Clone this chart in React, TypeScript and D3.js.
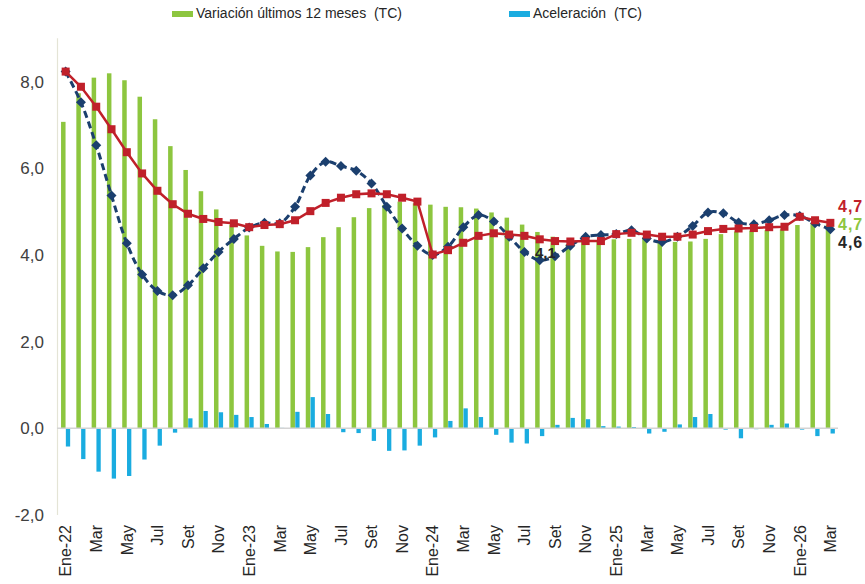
import React from "react";
import * as d3 from "d3";

const categories: string[] = [
  "Ene-22","Feb","Mar","Abr","May","Jun","Jul","Ago","Set","Oct","Nov","Dic",
  "Ene-23","Feb","Mar","Abr","May","Jun","Jul","Ago","Set","Oct","Nov","Dic",
  "Ene-24","Feb","Mar","Abr","May","Jun","Jul","Ago","Set","Oct","Nov","Dic",
  "Ene-25","Feb","Mar","Abr","May","Jun","Jul","Ago","Set","Oct","Nov","Dic",
  "Ene-26","Feb","Mar",
];

const variacion12m: number[] = [
  7.07, 7.73, 8.09, 8.19, 8.03, 7.65, 7.13, 6.51, 5.96, 5.47, 5.05, 4.70, 4.45,
  4.21, 4.08, 4.07, 4.18, 4.41, 4.64, 4.87, 5.08, 5.15, 5.23, 5.19, 5.16, 5.11,
  5.10, 5.07, 4.98, 4.86, 4.70, 4.53, 4.42, 4.25, 4.30, 4.33, 4.36, 4.37, 4.40,
  4.32, 4.30, 4.31, 4.37, 4.48, 4.54, 4.56, 4.57, 4.59, 4.69, 4.73, 4.70,
];

const aceleracion: number[] = [
  -0.42, -0.71, -1.0, -1.16, -1.1, -0.72, -0.4, -0.1, 0.23, 0.4, 0.37, 0.31, 0.26,
  0.1, 0.01, 0.38, 0.72, 0.33, -0.09, -0.11, -0.29, -0.52, -0.51, -0.4, -0.21, 0.17,
  0.46, 0.26, -0.15, -0.33, -0.35, -0.18, 0.08, 0.24, 0.21, 0.05, 0.04, 0.03, -0.12,
  -0.08, 0.09, 0.26, 0.33, -0.03, -0.23, -0.02, 0.08, 0.11, -0.03, -0.18, -0.12,
];

const redSeries: number[] = [
  8.23, 7.88, 7.42, 6.9, 6.37, 5.88, 5.48, 5.17, 4.95, 4.83, 4.76, 4.73, 4.64,
  4.69, 4.71, 4.8, 5.01, 5.2, 5.32, 5.4, 5.42, 5.4, 5.32, 5.23, 4.01, 4.11,
  4.28, 4.44, 4.5, 4.47, 4.44, 4.36, 4.32, 4.31, 4.32, 4.32, 4.48, 4.51, 4.47,
  4.42, 4.42, 4.47, 4.55, 4.6, 4.61, 4.62, 4.64, 4.65, 4.88, 4.8, 4.74,
];

const blueSeries: number[] = [
  8.23, 7.52, 6.53, 5.37, 4.27, 3.55, 3.17, 3.07, 3.3, 3.69, 4.07, 4.37, 4.63,
  4.74, 4.73, 5.11, 5.83, 6.15, 6.05, 5.94, 5.65, 5.11, 4.61, 4.21, 4.0, 4.19,
  4.64, 4.92, 4.77, 4.42, 4.07, 3.88, 3.97, 4.21, 4.42, 4.46, 4.48, 4.57, 4.38,
  4.3, 4.42, 4.67, 4.98, 4.96, 4.75, 4.71, 4.8, 4.92, 4.9, 4.73, 4.59,
];

const yTicks: number[] = [-2, 0, 2, 4, 6, 8];
const legendLabels: string[] = ["Variación últimos 12 meses  (TC)", "Aceleración  (TC)"];
const endLabels: string[] = ["4,7", "4,7", "4,6"];
const midLabel = "4,1";

const GREEN = "#8DC63F";
const CYAN = "#1AACE0";
const RED = "#C0202A";
const NAVY = "#1B3F6E";
const TEXT = "#262626";

export default function App() {
  const W = 865, H = 584;
  const x = d3.scaleBand<number>().domain(categories.map((_, i) => i)).range([58, 838]).padding(0);
  const y = d3.scaleLinear().domain([-2, 9]).range([515, 38.2]);
  const bw = x.bandwidth();
  const cx = (i: number) => (x(i) as number) + bw / 2;
  const fmt = (v: number) => d3.format(".1f")(v).replace(".", ",").replace("\u2212", "-");

  const redLine = d3.line<number>().x((_, i) => cx(i)).y((d) => y(d));
  const navyLine = d3.line<number>().x((_, i) => cx(i)).y((d) => y(d)).curve(d3.curveCatmullRom.alpha(0.5));

  const diamond = (d: number, i: number) => {
    const px = cx(i), py = y(d), r = 5;
    return `M${px},${py - r}L${px + r},${py}L${px},${py + r}L${px - r},${py}Z`;
  };

  return (
    <svg width={W} height={H} style={{ position: "absolute", left: 0, top: 0, fontFamily: "'Liberation Sans', Arial, sans-serif" }}>
      <rect width={W} height={H} fill="#fff" />
      {/* legend */}
      <rect x={172} y={11} width={21} height={6} fill={GREEN} />
      <text x={196} y={18} fontSize={14} fill={TEXT} style={{ whiteSpace: "pre" }}>{legendLabels[0]}</text>
      <rect x={509} y={11} width={21} height={6} fill={CYAN} />
      <text x={533} y={18} fontSize={14} fill={TEXT} style={{ whiteSpace: "pre" }}>{legendLabels[1]}</text>

      {/* y axis */}
      <line x1={57.5} x2={57.5} y1={y(9)} y2={y(-2)} stroke="#E4E4D6" strokeWidth={1.2} />
      {yTicks.map((t) => (
        <text key={t} x={44} y={y(t)} dy="0.36em" textAnchor="end" fontSize={17} fill="#404040">{fmt(t)}</text>
      ))}

      {/* bars */}
      {variacion12m.map((v, i) => (
        <rect key={"g" + i} x={cx(i) - 4.6} width={4.5} y={Math.min(y(v), y(0))} height={Math.abs(y(v) - y(0))} fill={GREEN} />
      ))}
      {aceleracion.map((v, i) => (
        <rect key={"b" + i} x={cx(i) + 0.2} width={4.3} y={Math.min(y(v), y(0))} height={Math.max(0.6, Math.abs(y(v) - y(0)))} fill={CYAN} />
      ))}

      {/* zero line */}
      <line x1={57} x2={838} y1={y(0)} y2={y(0)} stroke="#D4D4D4" strokeWidth={1.5} />

      {/* navy dashed smooth line */}
      <path d={navyLine(blueSeries) || ""} fill="none" stroke={NAVY} strokeWidth={3} strokeDasharray="7,4" />
      {blueSeries.map((d, i) => (
        <path key={"d" + i} d={diamond(d, i)} fill={NAVY} />
      ))}

      {/* red line */}
      <path d={redLine(redSeries) || ""} fill="none" stroke={RED} strokeWidth={2.5} />
      {redSeries.map((d, i) => (
        <rect key={"s" + i} x={cx(i) - 4} y={y(d) - 4} width={8} height={8} fill={RED} />
      ))}

      {/* x labels */}
      {categories.map((c, i) =>
        i % 2 === 0 ? (
          <text key={"x" + i} transform={`translate(${cx(i)},525) rotate(-90)`} dy="0.36em" textAnchor="end" fontSize={16} fill={TEXT}>{c}</text>
        ) : null
      )}

      {/* data labels */}
      <text x={535} y={258} fontSize={15} fontWeight="bold" fill={TEXT}>{midLabel}</text>
      <text x={838} y={212} fontSize={16} fontWeight="bold" fill={RED} letterSpacing={1}>{endLabels[0]}</text>
      <text x={838} y={230} fontSize={16} fontWeight="bold" fill={GREEN} letterSpacing={1}>{endLabels[1]}</text>
      <text x={838} y={248} fontSize={16} fontWeight="bold" fill={TEXT} letterSpacing={1}>{endLabels[2]}</text>
    </svg>
  );
}
